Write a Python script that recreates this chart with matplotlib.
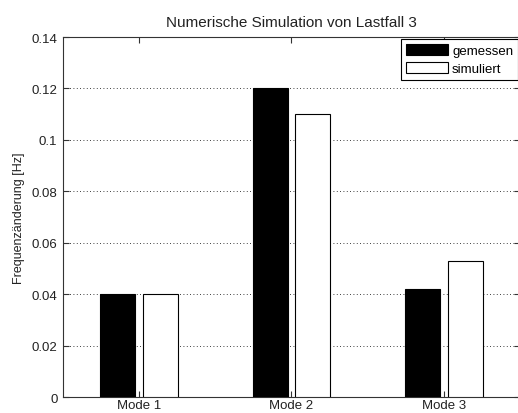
import numpy as np
import matplotlib
matplotlib.use("Agg")
import matplotlib.pyplot as plt

plt.rcParams['font.family'] = ['Liberation Sans', 'DejaVu Sans']

modes = ["Mode 1", "Mode 2", "Mode 3"]
gemessen = [0.04, 0.12, 0.042]
simuliert = [0.04, 0.11, 0.053]

fig = plt.figure(figsize=(5.18, 4.14), dpi=100)
ax = fig.add_axes([0.1216, 0.0386, 0.882, 0.8696])

x = np.arange(1, len(modes) + 1)
w = 0.23
ax.bar(x - 0.14, gemessen, w, color="black", edgecolor="black", linewidth=0.8, label="gemessen", zorder=3)
ax.bar(x + 0.14, simuliert, w, color="white", edgecolor="black", linewidth=0.8, label="simuliert", zorder=3)

ax.set_xlim(0.5, 3.5)
ax.set_ylim(0, 0.14)
ax.set_xticks(x)
ax.set_xticklabels(modes)
ax.set_yticks(np.arange(0, 0.141, 0.02))
ax.set_yticklabels(["0", "0.02", "0.04", "0.06", "0.08", "0.1", "0.12", "0.14"])
ax.tick_params(direction="in", labelsize=9.5, length=4, top=True, right=True, colors="#333333", labelcolor="#222222")
ax.tick_params(axis="y", pad=4)
ax.tick_params(axis="x", pad=1.5)
for s in ax.spines.values():
    s.set_color("#333333")
ax.grid(axis="y", linestyle=(0, (1, 3)), color="black", linewidth=0.6, zorder=0)
ax.set_ylabel("Frequenzänderung [Hz]", fontsize=9, labelpad=5, color="#222222")
ax.set_title("Numerische Simulation von Lastfall 3", fontsize=11, pad=8, color="#222222")

leg = ax.legend(loc="upper right", fontsize=9.5, fancybox=False, framealpha=1,
                edgecolor="black", handlelength=3.2, handleheight=1.0,
                borderaxespad=0.15, handletextpad=0.3, labelspacing=0.35, borderpad=0.35)
leg.get_frame().set_linewidth(0.8)

fig.savefig("out.png", dpi=100)
